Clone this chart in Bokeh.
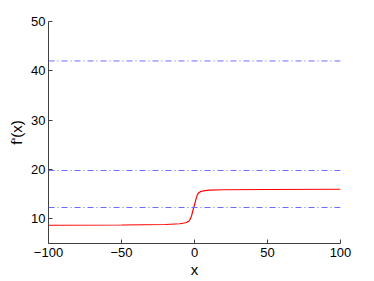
from bokeh.plotting import figure
from bokeh.models import Range1d, FixedTicker, Span
from bokeh.embed import file_html
from bokeh.resources import INLINE

# red curve f'(x)
curve_x = [-100, -50, -20, -10, -6, -4, -3, -2, -1, 0, 1, 2, 3, 4, 6, 10, 20, 50, 100]
curve_y = [8.7, 8.75, 8.85, 9.0, 9.2, 9.5, 9.9, 10.6, 11.8, 12.8, 14.0, 14.9, 15.3, 15.5, 15.65, 15.8, 15.9, 15.95, 16.0]

# horizontal reference levels (blue dash-dot)
levels = [42.0, 19.8, 12.3]

x_ticks = [-100, -50, 0, 50, 100]
x_tick_labels = ["\u2212100", "\u221250", "0", "50", "100"]
y_ticks = [10, 20, 30, 40, 50]

p = figure(frame_width=292, frame_height=222, output_backend="svg", toolbar_location=None,
           x_range=Range1d(-100, 100), y_range=Range1d(5, 50),
           min_border_left=48, min_border_right=26, min_border_top=21, min_border_bottom=30)
p.outline_line_color = None
p.xgrid.visible = False
p.ygrid.visible = False

for lv in levels:
    p.add_layout(Span(location=lv, dimension="width", line_color="#6b6bff",
                      line_width=1, line_dash="6 3 1 3"))

p.line(curve_x, curve_y, line_color="#ff0000", line_width=1.2)

p.xaxis.ticker = FixedTicker(ticks=x_ticks)
p.xaxis.major_label_overrides = {t: l for t, l in zip(x_ticks, x_tick_labels)}
p.yaxis.ticker = FixedTicker(ticks=y_ticks)

for ax in (p.xaxis[0], p.yaxis[0]):
    ax.major_tick_in = 4
    ax.major_tick_out = 0
    ax.minor_tick_in = 0
    ax.minor_tick_out = 0
    ax.axis_line_color = "#404040"
    ax.major_tick_line_color = "#404040"
    ax.major_label_text_font = "Liberation Sans"
    ax.major_label_text_font_size = "13px"
    ax.major_label_text_color = "black"
    ax.axis_label_text_font = "Liberation Sans"
    ax.axis_label_text_font_size = "15px"
    ax.axis_label_text_font_style = "normal"
    ax.axis_label_text_color = "black"

p.xaxis.major_label_standoff = 4
p.xaxis.axis_label_standoff = 1
p.yaxis.major_label_standoff = 3
p.yaxis.axis_label_standoff = 3

p.xaxis.axis_label = "x"
p.yaxis.axis_label = "f'(x)"

open("out.html", "w").write(file_html(p, INLINE))
